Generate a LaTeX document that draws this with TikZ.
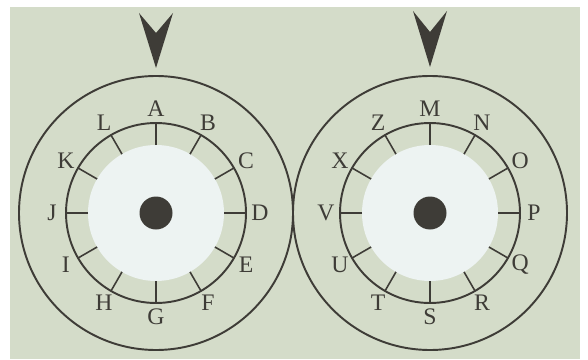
\documentclass[tikz,border=0pt]{standalone}
\usepackage{fontspec}
\setmainfont{Liberation Serif}
\usepackage{tikz}
\usetikzlibrary{calc, positioning}
\definecolor{paper}{RGB}{212, 220, 201}
\definecolor{face}{RGB}{237, 243, 242}
\definecolor{ink}{RGB}{62, 60, 55}

\begin{document}
\begin{tikzpicture}[x=0.02cm, y=0.02cm,
    ring/.style={ink, line width=1.1pt},
    tick/.style={ink, line width=0.9pt},
    letter/.style={ink, inner sep=0pt, font=\fontsize{13.5}{15}\selectfont}]
  \useasboundingbox (0,0) rectangle (588,359);
  \fill[white] (0,0) rectangle (588,359);
  \fill[paper] (10,0) rectangle (580,352);
  \coordinate (left) at (156,146);
  \coordinate (right) at (430,146);
  % left wheel
  \draw[ring] (left) circle (137);
  \fill[face] (left) circle (68);
  \draw[ring] (left) circle (90);
  \fill[ink] (left) circle (16.5);
  \foreach \l [count=\i from 0] in {A,B,C,D,E,F,G,H,I,J,K,L} {
    \draw[tick] ($(left)+(90-30*\i:68)$) -- ($(left)+(90-30*\i:90)$);
    \node[letter] (l\l) at ($(left)+(90-30*\i:104)$) {\l};
  }
  \fill[ink] ($(left)+(0,145)$) -- ++(-17,55) -- ++(17,-20) -- ++(17,20) -- cycle;
  % right wheel
  \draw[ring] (right) circle (137);
  \fill[face] (right) circle (68);
  \draw[ring] (right) circle (90);
  \fill[ink] (right) circle (16.5);
  \foreach \l [count=\i from 0] in {M,N,O,P,Q,R,S,T,U,V,X,Z} {
    \draw[tick] ($(right)+(90-30*\i:68)$) -- ($(right)+(90-30*\i:90)$);
    \node[letter] (r\l) at ($(right)+(90-30*\i:104)$) {\l};
  }
  \fill[ink] ($(right)+(0,146)$) -- ++(-17,56) -- ++(17,-21) -- ++(17,21) -- cycle;
\end{tikzpicture}
\end{document}
